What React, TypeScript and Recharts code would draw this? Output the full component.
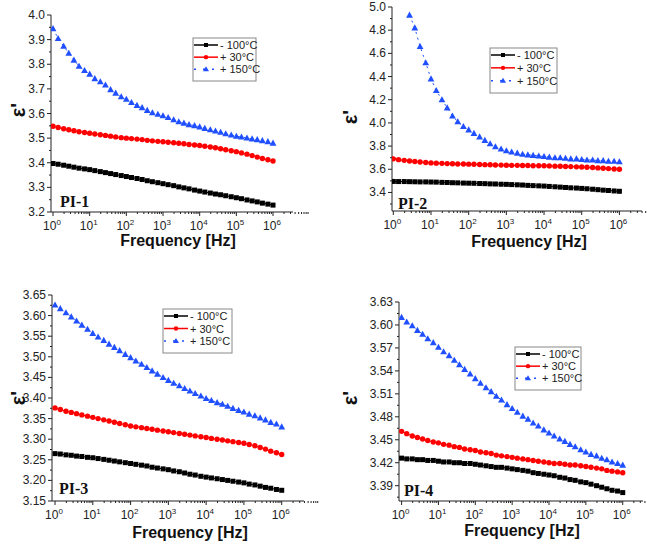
import React from "react";
import { LineChart, Line, XAxis, YAxis } from "recharts";

const SANS = '"Liberation Sans", Arial, sans-serif';
const SERIF = '"Liberation Serif", "Times New Roman", serif';

// log10 of frequency [Hz]
const logFreq = [
  0, 0.14, 0.29, 0.43, 0.57, 0.71, 0.86, 1, 1.14, 1.29, 1.43, 1.57, 1.71, 1.86,
  2, 2.14, 2.29, 2.43, 2.57, 2.71, 2.86, 3, 3.14, 3.29, 3.43, 3.57, 3.71, 3.86,
  4, 4.14, 4.29, 4.43, 4.57, 4.71, 4.86, 5, 5.14, 5.29, 5.43, 5.57, 5.71, 5.86, 6,
];

const seriesNames = ["- 100°C", "+ 30°C", "+ 150°C"];

// PI-1
const pi1Minus100 = [
  3.397, 3.394, 3.39, 3.386, 3.382, 3.378, 3.375, 3.372, 3.368, 3.364, 3.36, 3.356, 3.352, 3.348,
  3.344, 3.34, 3.336, 3.332, 3.327, 3.323, 3.319, 3.315, 3.311, 3.307, 3.302, 3.298, 3.294, 3.289,
  3.285, 3.281, 3.277, 3.273, 3.27, 3.266, 3.262, 3.258, 3.254, 3.249, 3.245, 3.241, 3.236, 3.232, 3.228,
];
const pi1Plus30 = [
  3.548, 3.543, 3.538, 3.534, 3.53, 3.526, 3.523, 3.52, 3.517, 3.514, 3.511, 3.508, 3.505, 3.502,
  3.5, 3.498, 3.496, 3.494, 3.491, 3.489, 3.487, 3.485, 3.483, 3.481, 3.479, 3.477, 3.474, 3.472,
  3.47, 3.467, 3.464, 3.461, 3.457, 3.453, 3.449, 3.445, 3.44, 3.435, 3.429, 3.423, 3.417, 3.412, 3.407,
];
const pi1Plus150 = [
  3.945, 3.905, 3.873, 3.845, 3.817, 3.792, 3.775, 3.76, 3.742, 3.729, 3.716, 3.697, 3.683, 3.668,
  3.658, 3.645, 3.633, 3.624, 3.613, 3.603, 3.597, 3.591, 3.584, 3.575, 3.567, 3.561, 3.555, 3.551,
  3.546, 3.54, 3.534, 3.529, 3.524, 3.518, 3.513, 3.508, 3.505, 3.501, 3.497, 3.494, 3.49, 3.486, 3.48,
];

// PI-2
const pi2Minus100 = [
  3.495, 3.494, 3.494, 3.493, 3.492, 3.491, 3.491, 3.49, 3.489, 3.487, 3.486, 3.484, 3.483, 3.481,
  3.48, 3.479, 3.477, 3.476, 3.474, 3.473, 3.471, 3.47, 3.468, 3.466, 3.464, 3.461, 3.459, 3.457,
  3.455, 3.452, 3.449, 3.446, 3.443, 3.44, 3.438, 3.435, 3.432, 3.428, 3.424, 3.42, 3.417, 3.413, 3.41,
];
const pi2Plus30 = [
  3.69, 3.683, 3.677, 3.672, 3.667, 3.663, 3.659, 3.655, 3.653, 3.651, 3.649, 3.648, 3.646, 3.645,
  3.644, 3.643, 3.641, 3.64, 3.639, 3.637, 3.636, 3.635, 3.634, 3.634, 3.633, 3.632, 3.631, 3.631,
  3.63, 3.629, 3.627, 3.626, 3.624, 3.623, 3.621, 3.62, 3.618, 3.615, 3.612, 3.609, 3.606, 3.603, 3.6,
];
const pi2Plus150 = [
  null, null, null, 4.93, 4.82, 4.66, 4.52, 4.38, 4.28, 4.2, 4.13, 4.06, 4.01, 3.97,
  3.94, 3.91, 3.88, 3.85, 3.82, 3.795, 3.775, 3.76, 3.75, 3.74, 3.73, 3.725, 3.72, 3.715,
  3.71, 3.705, 3.7, 3.7, 3.695, 3.69, 3.69, 3.685, 3.68, 3.68, 3.675, 3.675, 3.67, 3.67, 3.665,
];

// PI-3
const pi3Minus100 = [
  3.265, 3.264, 3.262, 3.261, 3.259, 3.258, 3.256, 3.255, 3.253, 3.251, 3.249, 3.247, 3.245, 3.243,
  3.241, 3.239, 3.237, 3.235, 3.232, 3.23, 3.228, 3.226, 3.223, 3.221, 3.218, 3.215, 3.213, 3.21,
  3.208, 3.206, 3.204, 3.202, 3.2, 3.198, 3.196, 3.194, 3.191, 3.189, 3.186, 3.183, 3.181, 3.178, 3.176,
];
const pi3Plus30 = [
  3.376, 3.372, 3.368, 3.365, 3.362, 3.359, 3.356, 3.353, 3.35, 3.347, 3.344, 3.341, 3.338, 3.335,
  3.332, 3.33, 3.328, 3.326, 3.324, 3.322, 3.32, 3.318, 3.316, 3.314, 3.312, 3.31, 3.308, 3.306,
  3.304, 3.302, 3.3, 3.298, 3.296, 3.294, 3.292, 3.29, 3.287, 3.284, 3.28, 3.276, 3.271, 3.267, 3.263,
];
const pi3Plus150 = [
  3.626, 3.617, 3.607, 3.597, 3.587, 3.577, 3.567, 3.557, 3.548, 3.54, 3.531, 3.523, 3.515, 3.506,
  3.498, 3.49, 3.482, 3.474, 3.466, 3.458, 3.45, 3.443, 3.436, 3.43, 3.423, 3.417, 3.411, 3.405,
  3.399, 3.394, 3.389, 3.385, 3.38, 3.375, 3.37, 3.366, 3.361, 3.357, 3.352, 3.347, 3.341, 3.337, 3.33,
];

// PI-4
const pi4Minus100 = [
  3.426, 3.425, 3.425, 3.424, 3.424, 3.423, 3.423, 3.422, 3.421, 3.421, 3.42, 3.42, 3.419, 3.419,
  3.418, 3.417, 3.416, 3.415, 3.414, 3.414, 3.413, 3.412, 3.411, 3.41, 3.409, 3.407, 3.406, 3.405,
  3.404, 3.403, 3.401, 3.4, 3.398, 3.397, 3.395, 3.394, 3.392, 3.39, 3.388, 3.386, 3.384, 3.383, 3.381,
];
const pi4Plus30 = [
  3.461, 3.458, 3.455, 3.453, 3.451, 3.449, 3.447, 3.446, 3.444, 3.443, 3.441, 3.44, 3.438, 3.437,
  3.436, 3.434, 3.433, 3.432, 3.43, 3.429, 3.428, 3.427, 3.426, 3.425, 3.424, 3.423, 3.422, 3.421,
  3.42, 3.419, 3.419, 3.418, 3.417, 3.417, 3.416, 3.415, 3.414, 3.413, 3.412, 3.41, 3.409, 3.408, 3.407,
];
const pi4Plus150 = [
  3.61, 3.604, 3.599, 3.593, 3.588, 3.582, 3.577, 3.571, 3.565, 3.56, 3.554, 3.548, 3.542, 3.536,
  3.53, 3.524, 3.518, 3.513, 3.507, 3.502, 3.496, 3.491, 3.486, 3.481, 3.477, 3.472, 3.468, 3.463,
  3.459, 3.455, 3.451, 3.448, 3.444, 3.441, 3.437, 3.434, 3.431, 3.429, 3.426, 3.424, 3.421, 3.419, 3.417,
];

// axis ticks
const xMajor = [0, 1, 2, 3, 4, 5, 6];
const xMinor = [0, 1, 2, 3, 4, 5, 6].flatMap((d) =>
  [2, 3, 4, 5, 6, 7, 8, 9].map((m) => d + Math.log10(m))
);
const xTicks = [...xMajor, ...xMinor];

const y1Major = [3.2, 3.3, 3.4, 3.5, 3.6, 3.7, 3.8, 3.9, 4.0];
const y1Minor = [3.25, 3.35, 3.45, 3.55, 3.65, 3.75, 3.85, 3.95];
const y2Major = [3.4, 3.6, 3.8, 4.0, 4.2, 4.4, 4.6, 4.8, 5.0];
const y2Minor = [3.3, 3.5, 3.7, 3.9, 4.1, 4.3, 4.5, 4.7, 4.9];
const y3Major = [3.15, 3.2, 3.25, 3.3, 3.35, 3.4, 3.45, 3.5, 3.55, 3.6, 3.65];
const y3Minor = [3.175, 3.225, 3.275, 3.325, 3.375, 3.425, 3.475, 3.525, 3.575, 3.625];
const y4Major = [3.39, 3.42, 3.45, 3.48, 3.51, 3.54, 3.57, 3.6, 3.63];
const y4Minor = [3.375, 3.405, 3.435, 3.465, 3.495, 3.525, 3.555, 3.585, 3.615];

const BLACK = "#000000";
const RED = "#ff0000";
const BLUE = "#1f4fff";
const AXIS = "#222222";

const squareDot = (p: any) =>
  p.cx == null || p.cy == null ? (
    <g key={p.key} />
  ) : (
    <rect key={p.key} x={p.cx - 2.5} y={p.cy - 2.5} width={5} height={5} fill={BLACK} />
  );
const circleDot = (p: any) =>
  p.cx == null || p.cy == null ? (
    <g key={p.key} />
  ) : (
    <circle key={p.key} cx={p.cx} cy={p.cy} r={2.7} fill={RED} />
  );
const triDot = (p: any) =>
  p.cx == null || p.cy == null ? (
    <g key={p.key} />
  ) : (
    <path
      key={p.key}
      d={`M${p.cx},${p.cy - 3.5}L${p.cx + 3.4},${p.cy + 2.6}L${p.cx - 3.4},${p.cy + 2.6}Z`}
      fill={BLUE}
    />
  );

const XTick = (props: any) => {
  const { x, y, payload } = props;
  const v = payload.value;
  const major = Math.abs(v - Math.round(v)) < 1e-6;
  return (
    <g>
      <line x1={x} x2={x} y1={y} y2={y + (major ? 4 : 2)} stroke={AXIS} />
      {major && (
        <text x={x - 1} y={y + 18} textAnchor="middle" fontSize={12} fill={AXIS} fontFamily={SANS}>
          10
          <tspan dy={-5} fontSize={8}>
            {Math.round(v)}
          </tspan>
        </text>
      )}
    </g>
  );
};

const makeYTick = (majors: number[], digits: number) => (props: any) => {
  const { x, y, payload } = props;
  const v = payload.value;
  const major = majors.some((m) => Math.abs(m - v) < 1e-6);
  return (
    <g>
      <line x1={x - (major ? 4 : 2)} x2={x} y1={y} y2={y} stroke={AXIS} />
      {major && (
        <text x={x - 6} y={y + 4} textAnchor="end" fontSize={12} fill={AXIS} fontFamily={SANS}>
          {v.toFixed(digits)}
        </text>
      )}
    </g>
  );
};

const Legend = ({ x, y, w, h }: { x: number; y: number; w: number; h: number }) => {
  const rows = [
    { color: BLACK, dash: undefined, dot: (cx: number, cy: number) => <rect x={cx - 2} y={cy - 2} width={4} height={4} fill={BLACK} /> },
    { color: RED, dash: undefined, dot: (cx: number, cy: number) => <circle cx={cx} cy={cy} r={2.2} fill={RED} /> },
    {
      color: BLUE,
      dash: "2 7",
      dot: (cx: number, cy: number) => <path d={`M${cx},${cy - 3}L${cx + 3},${cy + 2}L${cx - 3},${cy + 2}Z`} fill={BLUE} />,
    },
  ];
  const step = (h - 8) / 3;
  return (
    <g>
      <rect x={x} y={y} width={w} height={h} fill="#fff" stroke="#888" strokeWidth={1} />
      {rows.map((r, i) => {
        const cy = y + 7 + i * (step + 0.5);
        return (
          <g key={i}>
            <line x1={x + 1} x2={x + 25} y1={cy} y2={cy} stroke={r.color} strokeWidth={1.5} strokeDasharray={r.dash} />
            {r.dot(x + 13, cy)}
            <text x={x + 27} y={cy + 4} fontSize={11} fill="#222" fontFamily={SANS}>
              {seriesNames[i]}
            </text>
          </g>
        );
      })}
    </g>
  );
};

interface PanelProps {
  left: number;
  top: number;
  width: number;
  height: number;
  margin: { top: number; right: number; bottom: number; left: number };
  yAxisWidth: number;
  xAxisHeight: number;
  xDomain: [number, number];
  yDomain: [number, number];
  yMajor: number[];
  yMinor: number[];
  digits: number;
  s1: (number | null)[];
  s2: (number | null)[];
  s3: (number | null)[];
  name: string;
  freqX: number;
  freqY: number;
  epsX: number;
  epsY: number;
  nameX: number;
  nameY: number;
  legend: { x: number; y: number; w: number; h: number };
}

const Panel = (p: PanelProps) => {
  const data = logFreq.map((x, i) => ({ x, a: p.s1[i], b: p.s2[i], c: p.s3[i] }));
  const YTick = makeYTick(p.yMajor, p.digits);
  return (
    <div style={{ position: "absolute", left: p.left, top: p.top, width: p.width, height: p.height }}>
      <LineChart width={p.width} height={p.height} data={data} margin={p.margin}>
        <XAxis
          dataKey="x"
          type="number"
          domain={p.xDomain}
          ticks={xTicks}
          interval={0}
          tickSize={0}
          tickMargin={0}
          tickLine={false}
          axisLine={{ stroke: AXIS }}
          height={p.xAxisHeight}
          tick={XTick}
          allowDataOverflow
        />
        <YAxis
          type="number"
          domain={p.yDomain}
          ticks={[...p.yMajor, ...p.yMinor]}
          interval={0}
          tickSize={0}
          tickMargin={0}
          tickLine={false}
          axisLine={{ stroke: AXIS }}
          width={p.yAxisWidth}
          tick={YTick}
          allowDataOverflow
        />
        <Line dataKey="a" name={seriesNames[0]} type="linear" stroke={BLACK} strokeWidth={1} dot={squareDot} activeDot={false} isAnimationActive={false} />
        <Line dataKey="b" name={seriesNames[1]} type="linear" stroke={RED} strokeWidth={1} dot={circleDot} activeDot={false} isAnimationActive={false} />
        <Line dataKey="c" name={seriesNames[2]} type="linear" stroke={BLUE} strokeWidth={1} strokeDasharray="2 4" dot={triDot} activeDot={false} isAnimationActive={false} />
      </LineChart>
      <svg
        width={p.width}
        height={p.height}
        style={{ position: "absolute", left: 0, top: 0, pointerEvents: "none" }}
      >
        <text x={p.freqX} y={p.freqY} textAnchor="middle" fontSize={16} fontWeight="bold" fill="#111" fontFamily={SANS}>
          Frequency [Hz]
        </text>
        <text
          x={p.epsX}
          y={p.epsY}
          textAnchor="middle"
          fontSize={20}
          fontWeight="bold"
          fill="#111"
          fontFamily={SANS}
          transform={`rotate(-90 ${p.epsX} ${p.epsY})`}
        >
          ε'
        </text>
        <text x={p.nameX} y={p.nameY} fontSize={16} fontWeight="bold" fill="#111" fontFamily={SERIF}>
          {p.name}
        </text>
        <Legend {...p.legend} />
      </svg>
    </div>
  );
};

export default function App() {
  return (
    <div style={{ position: "absolute", left: 0, top: 0, width: 647, height: 544, background: "#fff", overflow: "hidden" }}>
      <Panel
        left={0} top={0} width={330} height={260}
        margin={{ top: 15, right: 37, bottom: 0, left: 0 }}
        yAxisWidth={51} xAxisHeight={48}
        xDomain={[-0.055, 6.545]} yDomain={[3.2, 4.0]}
        yMajor={y1Major} yMinor={y1Minor} digits={1}
        s1={pi1Minus100} s2={pi1Plus30} s3={pi1Plus150}
        name="PI-1"
        freqX={178} freqY={246} epsX={25} epsY={110} nameX={60} nameY={207}
        legend={{ x: 193, y: 38, w: 63, h: 43 }}
      />
      <Panel
        left={330} top={0} width={317} height={260}
        margin={{ top: 7, right: 5, bottom: 0, left: 0 }}
        yAxisWidth={62} xAxisHeight={49}
        xDomain={[-0.035, 6.6]} yDomain={[3.24, 5.0]}
        yMajor={y2Major} yMinor={y2Minor} digits={1}
        s1={pi2Minus100} s2={pi2Plus30} s3={pi2Plus150}
        name="PI-2"
        freqX={199} freqY={247} epsX={27} epsY={117} nameX={68} nameY={209}
        legend={{ x: 160, y: 48, w: 67, h: 45 }}
      />
      <Panel
        left={0} top={280} width={330} height={264}
        margin={{ top: 15, right: 26, bottom: 0, left: 0 }}
        yAxisWidth={52} xAxisHeight={43}
        xDomain={[-0.08, 6.59]} yDomain={[3.15, 3.65]}
        yMajor={y3Major} yMinor={y3Minor} digits={2}
        s1={pi3Minus100} s2={pi3Plus30} s3={pi3Plus150}
        name="PI-3"
        freqX={190} freqY={258} epsX={25} epsY={118} nameX={59} nameY={214}
        legend={{ x: 163, y: 29, w: 69, h: 44 }}
      />
      <Panel
        left={330} top={280} width={317} height={264}
        margin={{ top: 22, right: 4, bottom: 0, left: 0 }}
        yAxisWidth={69} xAxisHeight={43}
        xDomain={[-0.07, 6.55]} yDomain={[3.37, 3.63]}
        yMajor={y4Major} yMinor={y4Minor} digits={2}
        s1={pi4Minus100} s2={pi4Plus30} s3={pi4Plus150}
        name="PI-4"
        freqX={192} freqY={256} epsX={27} epsY={118} nameX={74} nameY={216}
        legend={{ x: 185, y: 67, w: 66, h: 43 }}
      />
    </div>
  );
}
